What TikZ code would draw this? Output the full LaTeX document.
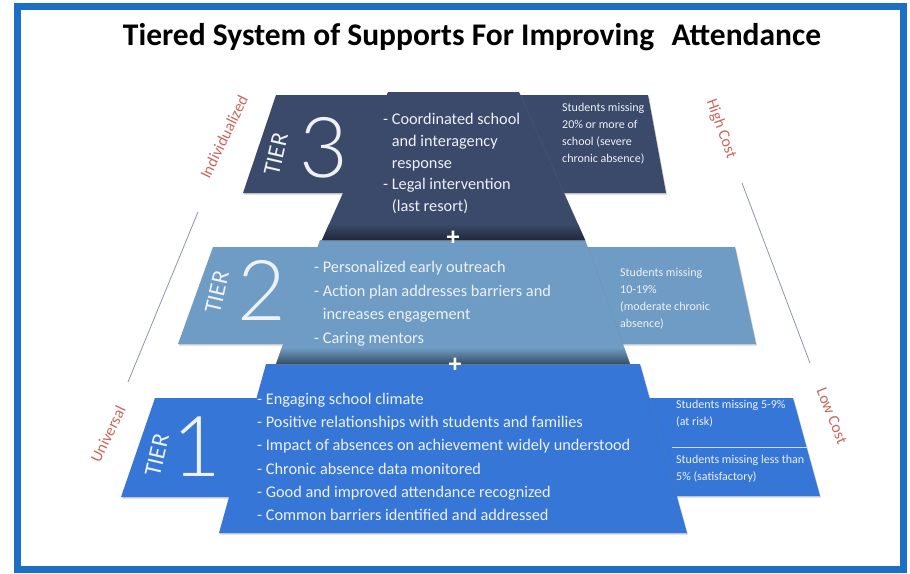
\documentclass[tikz,border=0pt]{standalone}
\usepackage{fontspec}
\setmainfont{Carlito}
\newfontfamily\thinfont{Lato Light}
\usetikzlibrary{shadows}
\definecolor{frameblue}{HTML}{1C6FC4}
\definecolor{tierthree}{HTML}{3B496A}
\definecolor{tiertwo}{HTML}{6E9CC4}
\definecolor{tierone}{HTML}{3676D6}
\definecolor{labelred}{HTML}{C8685E}
\definecolor{guide}{HTML}{8C96AA}
\definecolor{textwhite}{HTML}{EEF1F6}
\begin{document}
\begin{tikzpicture}[x=1pt,y=-1pt,
  wing/.style={drop shadow={shadow xshift=1pt,shadow yshift=-1.5pt,opacity=0.35}},
  maintext/.style={text=textwhite,align=left,inner sep=0pt,anchor=north west},
  sidetext/.style={text=textwhite,align=left,inner sep=0pt,anchor=north west,font=\fontsize{12}{17}\selectfont},
  tierword/.style={text=textwhite,inner sep=0pt,rotate=77,font=\fontsize{24}{24}\selectfont},
  tierdigit/.style={text=textwhite,inner sep=0pt,font=\thinfont\fontsize{84}{84}\selectfont},
  plussign/.style={text=white,inner sep=0pt,font=\bfseries\fontsize{26}{26}\selectfont},
  sidelabel/.style={text=labelred,inner sep=0pt,font=\fontsize{16}{16}\selectfont},
  guideline/.style={draw=guide,line width=0.8pt},
  sepline/.style={draw=white!75!tierone,line width=0.8pt},
  titletext/.style={inner sep=0pt,font=\bfseries\fontsize{31.5}{31.5}\selectfont}
]
\useasboundingbox (0,0) rectangle (910,573);
\fill[white] (0,0) rectangle (910,573);
\draw[frameblue,line width=7pt] (17.5,6.5) rectangle (903.5,569.5);

% title
\node[titletext,anchor=base] (title) at (472,45) {Tiered System of Supports For Improving\hspace{0.55em}Attendance};

% side labels and guide lines
\node[sidelabel,rotate=64] (indiv) at (224,137) {Individualized};
\node[sidelabel,rotate=64] (univ) at (108,434) {Universal};
\node[sidelabel,rotate=-70] (high) at (721,129) {High Cost};
\node[sidelabel,rotate=-68] (low) at (832,416) {Low Cost};
\coordinate (gla) at (198,212);
\coordinate (glb) at (128,382);
\coordinate (gra) at (742,183);
\coordinate (grb) at (810,363);
\draw[guideline] (gla) -- (glb);
\draw[guideline] (gra) -- (grb);

% ---------- Tier 1
\fill[tierone,wing] (155,398) -- (290,398) -- (290,497) -- (121,497) -- cycle;
\fill[tierone,wing] (630,398) -- (793,398) -- (820,496) -- (630,496) -- cycle;
\fill[tierone,wing] (266,364) -- (640,364) -- (687,533) -- (219,533) -- cycle;

% ---------- Tier 2
\fill[tiertwo,wing] (213,247) -- (330,247) -- (330,344) -- (178,344) -- cycle;
\fill[tiertwo,wing] (580,247) -- (735,247) -- (756,344) -- (580,344) -- cycle;
\fill[tiertwo,wing] (320,240) -- (585,240) -- (630,364) -- (276,364) -- cycle;
\path[top color=tiertwo,bottom color=tiertwo!50!black] (281.7,348) -- (624.2,348) -- (630,364) -- (276,364) -- cycle;

% ---------- Tier 3
\fill[tierthree,wing] (276,95) -- (395,95) -- (395,193) -- (243,193) -- cycle;
\fill[tierthree,wing] (515,95) -- (648,95) -- (666,193) -- (515,193) -- cycle;
\fill[tierthree,wing] (388,92) -- (519,92) -- (585,240) -- (322,240) -- cycle;
\path[top color=tierthree,bottom color=tierthree!55!black] (329.1,224) -- (577.9,224) -- (585,240) -- (322,240) -- cycle;

% plus signs
\node[plussign] (plusa) at (453,238) {+};
\node[plussign] (plusb) at (455,365) {+};

% tier labels
\node[tierword] (tw3) at (276,154) {TIER};
\node[tierdigit] (td3) at (324,148) {3};
\node[tierword] (tw2) at (217,292) {TIER};
\node[tierdigit] (td2) at (262,290) {2};
\node[tierword] (tw1) at (157,455) {TIER};
\node[tierdigit] (td1) at (197,447) {1};

% main texts
\node[maintext,font=\fontsize{16.3}{21.8}\selectfont] (t3) at (383,113)
  {- Coordinated school\\\phantom{- }and interagency\\\phantom{- }response\\- Legal intervention\\\phantom{- }(last resort)};
\node[maintext,font=\fontsize{16.3}{23.7}\selectfont] (t2) at (314,261)
  {- Personalized early outreach\\- Action plan addresses barriers and\\\phantom{- }increases engagement\\- Caring mentors};
\node[maintext,font=\fontsize{16.3}{23.2}\selectfont] (t1) at (257,393)
  {- Engaging school climate\\- Positive relationships with students and families\\- Impact of absences on achievement widely understood\\- Chronic absence data monitored\\- Good and improved attendance recognized\\- Common barriers identified and addressed};

% side texts
\node[sidetext] (s3) at (562,103) {Students missing\\20\% or more of\\school (severe\\chronic absence)};
\node[sidetext] (s2) at (620,268) {Students missing\\10-19\%\\(moderate chronic\\absence)};
\node[sidetext] (s1a) at (676,400) {Students missing 5-9\%\\(at risk)};
\coordinate (sepa) at (672,447);
\coordinate (sepb) at (808,447);
\draw[sepline] (sepa) -- (sepb);
\node[sidetext] (s1b) at (676,455) {Students missing less than\\5\% (satisfactory)};
\end{tikzpicture}
\end{document}
